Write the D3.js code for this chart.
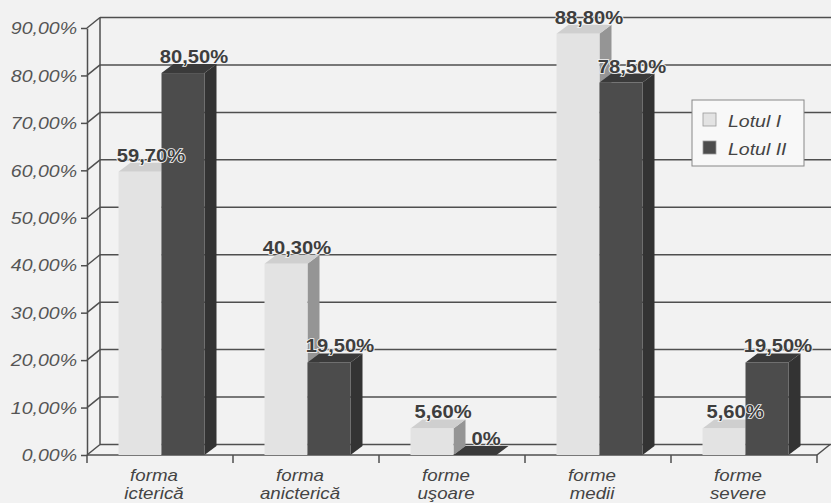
<!DOCTYPE html>
<html>
<head>
<meta charset="utf-8">
<script src="https://cdn.jsdelivr.net/npm/d3@7"></script>
<style>
  html, body { margin: 0; padding: 0; background: #f2f2f2; }
  svg { display: block; }
</style>
</head>
<body>
<svg id="chart"></svg>
<script>
// data
const categories = ["forma icterică", "forma anicterică", "forme uşoare", "forme medii", "forme severe"];
const series = ["Lotul I", "Lotul II"];
const lotI = [59.7, 40.3, 5.6, 88.8, 5.6];
const lotII = [80.5, 19.5, 0, 78.5, 19.5];
const yTicks = [0, 10, 20, 30, 40, 50, 60, 70, 80, 90];

const width = 831;
const height = 503;

// depth of the 3d box and of the bars
const wallDx = 13, wallDy = -10.5;
const barDx = 12, barDy = -9;

const font = "'Liberation Sans', Arial, sans-serif";

const colors = {
  "Lotul I": { front: "#e3e3e3", top: "#cfcfcf", side: "#959595" },
  "Lotul II": { front: "#4c4c4c", top: "#3a3a3a", side: "#333" }
};

const fmtTick = d => d.toFixed(2).replace(".", ",") + "%";
const fmtVal = d => d === 0 ? "0%" : d.toFixed(2).replace(".", ",") + "%";

const svg = d3.select("#chart")
  .attr("width", width)
  .attr("height", height)
  .style("font-family", font);

svg.append("rect")
  .attr("width", width)
  .attr("height", height)
  .attr("fill", "#f2f2f2");

const y = d3.scaleLinear().domain([0, 90]).range([455, 28]);
const x0 = d3.scaleBand().domain(categories).range([87, 817]).paddingInner(0);
const x1 = d3.scaleBand().domain(series).range([30.5, 116.5]);

const gridColor = "#4f4f4f";

// back wall grid + side wall diagonals
const grid = svg.append("g").attr("stroke", gridColor).attr("stroke-width", 1.5).attr("fill", "none");
yTicks.forEach(function (t) {
  const yy = y(t);
  grid.append("line")
    .attr("x1", 87 + wallDx).attr("x2", width)
    .attr("y1", yy + wallDy).attr("y2", yy + wallDy);
  grid.append("line")
    .attr("x1", 87).attr("x2", 87 + wallDx)
    .attr("y1", yy).attr("y2", yy + wallDy);
});
grid.append("line")
  .attr("x1", 87 + wallDx).attr("x2", 87 + wallDx)
  .attr("y1", y(90) + wallDy).attr("y2", y(0) + wallDy);

// floor front edge, right diagonal and category ticks
grid.append("line")
  .attr("x1", 87).attr("x2", 817)
  .attr("y1", y(0)).attr("y2", y(0));
grid.append("line")
  .attr("x1", 817).attr("x2", 817 + wallDx)
  .attr("y1", y(0)).attr("y2", y(0) + wallDy);
const bounds = categories.map(c => x0(c)).concat([x0.range()[1]]);
bounds.forEach(function (b) {
  grid.append("line")
    .attr("x1", b).attr("x2", b)
    .attr("y1", y(0)).attr("y2", y(0) + 8);
});

// y axis
const yAxis = svg.append("g")
  .attr("transform", "translate(87,0)")
  .call(d3.axisLeft(y).tickValues(yTicks).tickFormat(fmtTick).tickSize(6).tickSizeOuter(0));
yAxis.selectAll("path, line").attr("stroke", gridColor).attr("stroke-width", 1.5);
yAxis.selectAll("text")
  .attr("x", 0)
  .attr("dy", "0.36em")
  .attr("transform", "translate(-10,0) scale(1.22,1)")
  .attr("fill", "#555")
  .style("font-family", font)
  .style("font-size", "16px")
  .style("font-style", "italic");

// bars
const rows = categories.map(function (c, i) {
  return { cat: c, values: [{ key: "Lotul I", value: lotI[i] }, { key: "Lotul II", value: lotII[i] }] };
});

const bars = svg.append("g");
rows.forEach(function (r) {
  r.values.forEach(function (v) {
    const xa = x0(r.cat) + x1(v.key) + 1;
    const xb = xa + x1.bandwidth();
    const yt = y(v.value);
    const yb = y(0);
    const c = colors[v.key];
    const g = bars.append("g");
    g.append("polygon")
      .attr("points", [[xb, yt], [xb + barDx, yt + barDy], [xb + barDx, yb + barDy], [xb, yb]].join(" "))
      .attr("fill", c.side);
    g.append("polygon")
      .attr("points", [[xa, yt], [xa + barDx, yt + barDy], [xb + barDx, yt + barDy], [xb, yt]].join(" "))
      .attr("fill", c.top);
    g.append("rect")
      .attr("x", xa).attr("y", yt)
      .attr("width", xb - xa).attr("height", yb - yt)
      .attr("fill", c.front);
  });
});

// value labels
const labels = svg.append("g");
rows.forEach(function (r) {
  r.values.forEach(function (v) {
    const xa = x0(r.cat) + x1(v.key) + 1;
    const cx = xa + x1.bandwidth() / 2 + 11;
    const by = y(v.value) + barDy - 1;
    labels.append("text")
      .attr("transform", `translate(${cx},${by}) scale(1.12,1)`)
      .attr("text-anchor", "middle")
      .attr("fill", "#3e3e3e")
      .attr("stroke", "#f4f4f4")
      .attr("stroke-width", 1.6)
      .attr("paint-order", "stroke")
      .style("font-size", "18px")
      .style("font-weight", "bold")
      .text(fmtVal(v.value));
  });
});

// category labels
const xl = svg.append("g");
categories.forEach(function (c) {
  const cx = x0(c) + x0.bandwidth() / 2 - 6;
  const t = xl.append("text")
    .attr("transform", `translate(${cx},481) scale(1.17,1)`)
    .attr("text-anchor", "middle")
    .attr("fill", "#444")
    .style("font-size", "16px")
    .style("font-style", "italic");
  c.split(" ").forEach(function (w, i) {
    t.append("tspan").attr("x", 0).attr("dy", i === 0 ? 0 : 18).text(w);
  });
});

// legend
const legend = svg.append("g").attr("transform", "translate(692,100)");
legend.append("rect")
  .attr("width", 112).attr("height", 66)
  .attr("fill", "#f8f8f8")
  .attr("stroke", "#888").attr("stroke-width", 1);
series.forEach(function (s, i) {
  legend.append("rect")
    .attr("x", 11).attr("y", 13 + i * 28)
    .attr("width", 13).attr("height", 13)
    .attr("fill", colors[s].front)
    .attr("stroke", "#999").attr("stroke-width", 0.8);
  legend.append("text")
    .attr("transform", `translate(36,${27 + i * 28}) scale(1.22,1)`)
    .attr("fill", "#444")
    .style("font-size", "16px")
    .style("font-style", "italic")
    .text(s);
});
</script>
</body>
</html>
